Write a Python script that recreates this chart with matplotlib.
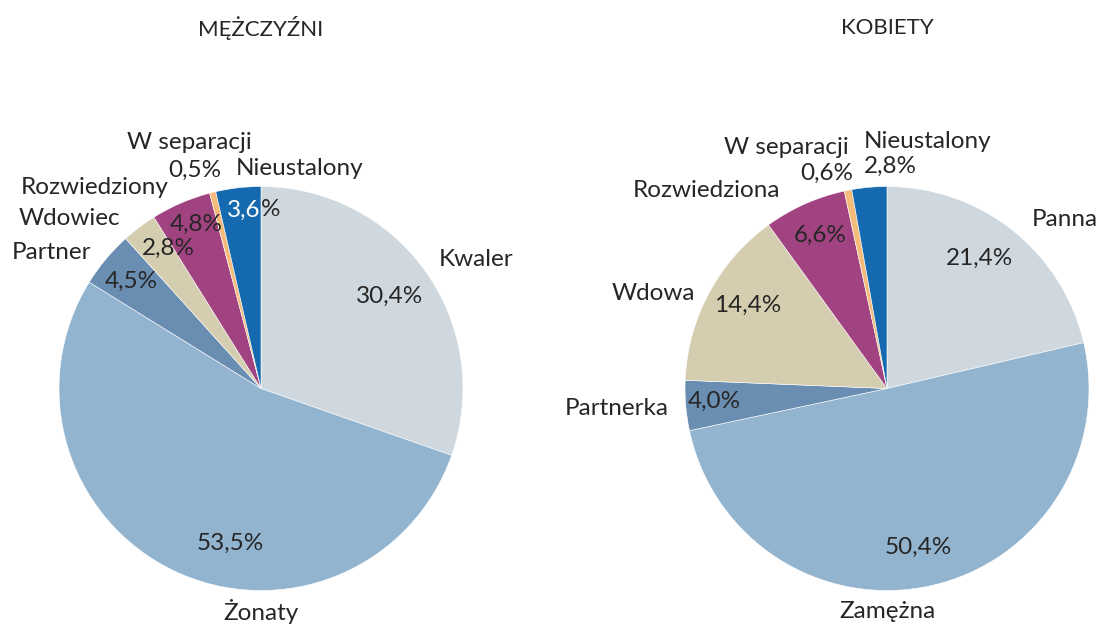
import matplotlib.pyplot as plt

# data
men_labels = ['Kwaler', 'Żonaty', 'Partner', 'Wdowiec', 'Rozwiedziony', 'W separacji', 'Nieustalony']
men_values = [30.4, 53.5, 4.5, 2.8, 4.8, 0.5, 3.6]
women_labels = ['Panna', 'Zamężna', 'Partnerka', 'Wdowa', 'Rozwiedziona', 'W separacji', 'Nieustalony']
women_values = [21.4, 50.4, 4.0, 14.4, 6.6, 0.6, 2.8]
titles = ['MĘŻCZYŹNI', 'KOBIETY']

colors = ['#CFD8DE', '#93B4CF', '#6A8DB2', '#D4CDAF', '#A24381', '#F4BB7A', '#1569AE']
txt = '#262626'

# label positions in units of pie radius (name pos, value pos)
men_name_pos = [(1.064, 0.641), (0.0, -1.106), (-1.035, 0.671), (-0.950, 0.844),
                (-0.822, 0.993), (-0.356, 1.220), (0.193, 1.087)]
men_val_pos = [(0.634, 0.458), (-0.153, -0.765), (-0.644, 0.532), (-0.460, 0.696),
               (-0.322, 0.814), (-0.327, 1.082), (-0.045, 0.884)]
women_name_pos = [(0.881, 0.839), (0.0, -1.106), (-1.337, -0.101), (-1.158, 0.468),
                  (-0.896, 0.978), (-0.500, 1.191), (0.203, 1.225)]
women_val_pos = [(0.460, 0.646), (0.153, -0.785), (-0.856, -0.062), (-0.688, 0.413),
                 (-0.332, 0.760), (-0.297, 1.067), (0.015, 1.101)]

plt.rcParams['font.family'] = ['Lato', 'DejaVu Sans']
fs = 17.5

fig = plt.figure(figsize=(11.02, 6.25), dpi=100)
ax = fig.add_axes([0, 0, 1, 1])

R = 202
centers = [(261, 236.5), (887, 236.5)]
groups = [(men_labels, men_values, men_name_pos, men_val_pos),
          (women_labels, women_values, women_name_pos, women_val_pos)]

def fmt(v):
    return ('%.1f%%' % v).replace('.', ',')

for (cx, cy), (labels, values, npos, vpos), title in zip(centers, groups, titles):
    ax.pie(values, colors=colors, startangle=90, counterclock=False,
           center=(cx, cy), radius=R, frame=True,
           wedgeprops=dict(edgecolor='white', linewidth=0.4))
    ax.text(cx, 597, title, ha='center', va='center', fontsize=16, color=txt)
    for i, lab in enumerate(labels):
        nx, ny = npos[i]
        ax.text(cx + R * nx, cy + R * ny, lab, ha='center', va='center',
                fontsize=fs, color=txt)
        vx, vy = vpos[i]
        if title == 'MĘŻCZYŹNI' and i == 6:
            # white number, dark percent sign as in the original
            s = fmt(values[i])
            ax.text(cx + R * vx + 9, cy + R * vy, s[:-1], ha='right', va='center',
                    fontsize=fs, color='white')
            ax.text(cx + R * vx + 9, cy + R * vy, '%', ha='left', va='center',
                    fontsize=fs, color=txt)
        else:
            ax.text(cx + R * vx, cy + R * vy, fmt(values[i]), ha='center',
                    va='center', fontsize=fs, color=txt)

ax.set_xlim(0, 1102)
ax.set_ylim(0, 625)
ax.set_aspect('equal')
ax.axis('off')
fig.savefig('out.png', dpi=100)
